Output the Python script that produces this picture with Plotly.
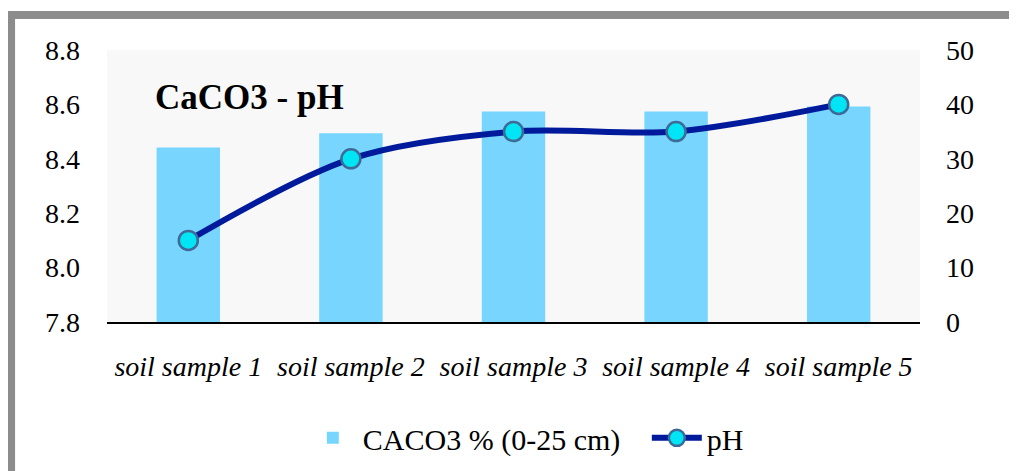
import plotly.graph_objects as go

samples = ["soil sample 1", "soil sample 2", "soil sample 3", "soil sample 4", "soil sample 5"]
caco3 = [32.1, 34.7, 38.7, 38.7, 39.6]
ph = [8.1, 8.4, 8.5, 8.5, 8.6]

serif = "Liberation Serif"

fig = go.Figure()

# bars on the right-hand axis (primary so the line sits on top)
fig.add_trace(go.Bar(
    x=samples, y=caco3, name="CACO3 % (0-25 cm)",
    marker=dict(color="#77d5fe", line=dict(width=0)),
    yaxis="y",
))

fig.add_trace(go.Scatter(
    x=samples, y=ph, name="pH", mode="lines+markers",
    line=dict(color="#001a9c", width=6, shape="spline", smoothing=0.9),
    marker=dict(size=19, color="#00e5f5", line=dict(color="#3d6a96", width=2.5)),
    yaxis="y2",
))

fig.update_layout(
    width=1017, height=471,
    margin=dict(l=99, r=105, t=42, b=157),
    paper_bgcolor="white",
    plot_bgcolor="#f8f8f8",
    font=dict(family=serif, size=28, color="black"),
    bargap=0.61,
    showlegend=True,
    legend=dict(orientation="h", x=0.664, xanchor="center", y=-0.426, yanchor="middle",
                font=dict(family=serif, size=30), bgcolor="rgba(0,0,0,0)",
                traceorder="normal", itemwidth=50, entrywidth=279,
                entrywidthmode="pixels"),
    xaxis=dict(showgrid=False, showline=True, linecolor="black", linewidth=2,
               ticks="", ticklabelstandoff=18,
               tickfont=dict(family=serif, size=28, style="italic")),
    yaxis=dict(range=[0, 50], dtick=10, side="right", showgrid=False,
               zeroline=False, showline=False, ticks="", ticklabelstandoff=25,
               tickfont=dict(family=serif, size=28)),
    yaxis2=dict(range=[7.8, 8.8], dtick=0.2, tickformat=".1f", overlaying="y",
                side="left", showgrid=False, zeroline=False, showline=False,
                ticks="", ticklabelstandoff=26,
                tickfont=dict(family=serif, size=28)),
    annotations=[dict(text="<b>CaCO3 - pH</b>", xref="paper", yref="paper",
                      x=0.0566, y=0.827, xanchor="left", yanchor="middle",
                      showarrow=False, font=dict(size=35, family=serif))],
    shapes=[dict(type="rect", xref="paper", yref="paper",
                 x0=-0.118, x1=1.2, y0=-0.8, y1=1.129,
                 line=dict(color="#8c8c8c", width=8), layer="below")],
)

fig.write_html("out.html")
